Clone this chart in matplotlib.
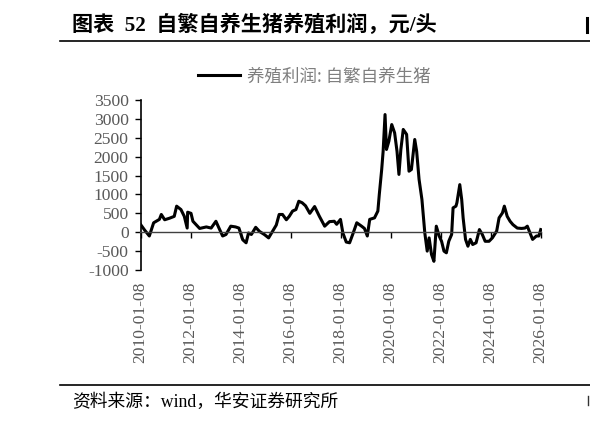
import pandas as pd
import matplotlib
matplotlib.use("Agg")
import matplotlib.pyplot as plt
import matplotlib.dates as mdates
from matplotlib.lines import Line2D

plt.rcParams['font.family'] = ['Liberation Serif', 'Noto Sans CJK SC', 'DejaVu Sans']
plt.rcParams['axes.unicode_minus'] = False

# 养殖利润: 自繁自养生猪 (元/头)
dates = [
    '2010-01-08', '2010-03-05', '2010-05-14', '2010-07-16', '2010-10-08', '2010-11-05', '2010-12-24',
    '2011-03-04', '2011-05-13', '2011-06-17', '2011-08-19', '2011-10-07', '2011-11-18', '2011-11-25',
    '2012-01-13', '2012-02-10', '2012-05-18', '2012-08-24', '2012-11-02',
    '2013-01-11', '2013-02-22', '2013-04-19', '2013-06-07', '2013-08-16', '2013-10-25', '2013-12-13',
    '2014-02-07', '2014-03-28', '2014-05-02', '2014-06-13', '2014-08-15', '2014-10-10', '2014-12-19',
    '2015-02-20', '2015-04-17', '2015-06-12', '2015-07-24', '2015-09-11', '2015-11-06', '2015-12-18',
    '2016-02-05', '2016-03-25', '2016-05-06', '2016-06-24', '2016-08-12', '2016-10-14', '2016-12-23',
    '2017-03-03', '2017-05-19', '2017-07-28', '2017-10-06', '2017-11-10',
    '2018-01-05', '2018-02-09', '2018-03-30', '2018-05-18', '2018-07-06', '2018-08-31', '2018-11-09',
    '2018-12-21',
    '2019-02-01', '2019-03-08', '2019-05-17', '2019-07-05', '2019-07-26', '2019-08-30', '2019-09-20',
    '2019-10-18', '2019-11-08', '2019-12-13',
    '2020-01-24', '2020-03-06', '2020-04-10', '2020-05-08', '2020-06-05', '2020-07-10', '2020-08-28',
    '2020-10-02', '2020-11-06', '2020-12-25',
    '2021-01-22', '2021-02-26', '2021-04-09', '2021-05-21', '2021-06-25', '2021-07-23', '2021-08-27',
    '2021-10-01', '2021-11-05', '2021-12-17',
    '2022-01-21', '2022-02-25', '2022-04-01', '2022-05-06', '2022-06-17', '2022-07-08', '2022-08-19',
    '2022-09-02', '2022-10-14', '2022-11-11', '2022-12-02',
    '2023-01-06', '2023-02-10', '2023-03-17', '2023-04-21', '2023-06-09', '2023-07-28', '2023-09-08',
    '2023-10-20', '2023-12-15',
    '2024-02-02', '2024-04-05', '2024-05-10', '2024-06-28', '2024-07-26', '2024-09-06', '2024-10-18',
    '2024-11-29',
    '2025-01-31', '2025-04-04', '2025-05-23', '2025-06-27', '2025-07-25', '2025-09-12', '2025-11-07',
    '2025-12-12', '2026-01-09',
]
profit = [
    200, 60, -100, 250, 340, 470, 330,
    370, 420, 690, 600, 420, 110, 530,
    500, 290, 100, 140, 110,
    290, 120, -100, -60, 160, 140, 110,
    -200, -280, -20, -60, 130, 20, -60,
    -150, 20, 190, 470, 470, 330, 420,
    560, 600, 820, 780, 700, 500, 680,
    420, 160, 280, 290, 210,
    340, -20, -260, -280, -40, 250, 160,
    100,
    -100, 340, 380, 560, 1000, 1660, 2140,
    3115, 2190, 2410,
    2850, 2630, 2140, 1530, 2190, 2720, 2590,
    1615, 1660, 2455,
    2140, 1400, 865, -20, -500, -150, -590,
    -770, 160, -100,
    -240, -500, -545, -240, -60, 645, 690,
    780, 1260, 865, 380,
    -190, -370, -190, -325, -280, 70, -60,
    -240, -240,
    -150, 30, 380, 510, 690, 420, 290,
    200,
    110, 100, 110, 160, 30, -190, -100,
    -100, 70,
]
tick_years = list(range(2010, 2027, 2))
y_ticks = list(range(-1000, 3501, 500))

W, H = 590, 423
fig = plt.figure(figsize=(W / 100, H / 100), dpi=100)
ax = fig.add_axes([140.5 / W, 1 - 270 / H, (541.5 - 140.5) / W, 170 / H])

x = pd.to_datetime(dates)
ax.plot(x, profit, color='black', lw=2.2, label='养殖利润: 自繁自养生猪')

ax.set_ylim(-1000, 3500)
ax.set_yticks(y_ticks)
ax.set_xlim(pd.Timestamp('2010-01-05'), pd.Timestamp('2026-01-20'))
ax.set_xticks(pd.to_datetime([f'{y}-01-08' for y in tick_years]))
ax.xaxis.set_major_formatter(mdates.DateFormatter('%Y-%m-%d'))

for s in ['top', 'right']:
    ax.spines[s].set_visible(False)
ax.spines['bottom'].set_position(('data', 0))
ax.spines['bottom'].set_color('#404040')
ax.spines['bottom'].set_linewidth(1.0)
ax.spines['left'].set_linewidth(1.2)

ax.tick_params(axis='y', direction='out', length=4.5, width=1.0, pad=4,
               labelsize=12.6, labelcolor='#595959')
ax.tick_params(axis='x', direction='out', length=4.5, width=1.0, pad=31,
               labelsize=12.6, labelcolor='#595959', labelrotation=90)

fig.legend(loc='center left', bbox_to_anchor=(198 / W, 1 - 76 / H), frameon=False,
           borderpad=0, borderaxespad=0, handlelength=2.4, handletextpad=0.4,
           prop={'family': ['Noto Sans CJK SC', 'DejaVu Sans'], 'size': 12.6},
           labelcolor='#7f7f7f')

# header and footer
fig.text(72 / W, 1 - 25 / H, '图表  52  自繁自养生猪养殖利润，元/头', ha='left', va='center',
         fontsize=15.2, fontweight='bold', family=['Liberation Serif', 'Noto Sans CJK SC'])
fig.add_artist(Line2D([60 / W, 1], [1 - 40.7 / H] * 2, color='black', lw=1.2))
fig.add_artist(Line2D([60 / W, 1], [1 - 385 / H] * 2, color='black', lw=1.2))
fig.text(72 / W, 1 - 402 / H, '资料来源：wind，华安证券研究所', ha='left', va='center',
         fontsize=12.8, family=['Liberation Serif', 'Noto Sans CJK SC'])
# slivers of neighbouring-column glyphs cut by the right edge
fig.add_artist(Line2D([587 / W] * 2, [1 - 18 / H, 1 - 32 / H], color='black', lw=2.2))
fig.add_artist(Line2D([588 / W] * 2, [1 - 396 / H, 1 - 405 / H], color='#333333', lw=1.0))

fig.savefig('out.png', dpi=100)
